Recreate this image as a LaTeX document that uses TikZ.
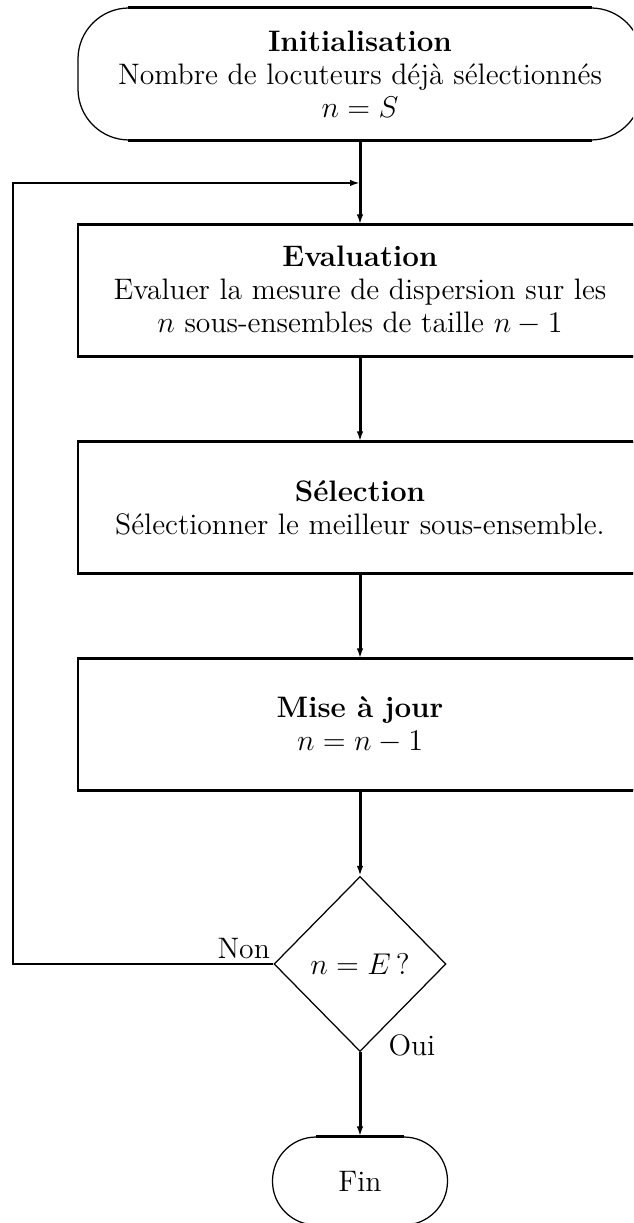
\documentclass[tikz,border=0pt]{standalone}
\usepackage{fontspec}
\usetikzlibrary{shapes.geometric,arrows.meta,calc}
\begin{document}
\begin{tikzpicture}[x=0.4pt,y=-0.4pt,
  font=\fontsize{11.85}{13.2}\selectfont,
  thinline/.style={line width=0.5pt},
  hedge/.style={line width=1.2pt},
  proc/.style={draw, thinline, rectangle, minimum width=225.6pt, minimum height=52.4pt, align=center, inner sep=0pt},
  term/.style={draw, thinline, rectangle, align=center, inner sep=0pt},
  decide/.style={draw, thinline, diamond, minimum width=68.8pt, minimum height=70pt, inner sep=0pt},
  conn/.style={line width=1.2pt, -{Latex[length=4pt,width=2.6pt]}},
  back/.style={line width=1pt, -{Latex[length=4pt,width=2.6pt]}}
]
\useasboundingbox (0,0) rectangle (633,1223);
\clip (0,0) rectangle (633,1223);

\node[term, minimum width=225.6pt, minimum height=52.8pt, rounded corners=20.4pt] (init) at (360,74)
  {\textbf{Initialisation}\\Nombre de locuteurs déjà sélectionnés\\$n=S$};
\node[proc] (eval) at (360,290.5)
  {\textbf{Evaluation}\\Evaluer la mesure de dispersion sur les\\$n$ sous-ensembles de taille $n-1$};
\node[proc] (sel) at (360,507.5)
  {\textbf{Sélection}\\Sélectionner le meilleur sous-ensemble.};
\node[proc] (maj) at (360,724.5)
  {\textbf{Mise à jour}\\$n=n-1$};
\node[decide] (test) at (360,964) {$n=E\,?$};
\node[term, minimum width=70pt, minimum height=35.2pt, rounded corners=17.5pt] (fin) at (360,1181) {Fin};

% thick horizontal edges
\draw[hedge] ($(init.north west)+(51,0)$) -- ($(init.north east)+(-51,0)$);
\draw[hedge] ($(init.south west)+(51,0)$) -- ($(init.south east)+(-51,0)$);
\foreach \b in {eval,sel,maj}{
  \draw[hedge] (\b.north west) -- (\b.north east);
  \draw[hedge] (\b.south west) -- (\b.south east);
}
\draw[hedge] ($(fin.north west)+(44,0)$) -- ($(fin.north east)+(-44,0)$);

% connectors
\draw[conn] (init.south) -- (eval.north);
\draw[conn] (eval.south) -- (sel.north);
\draw[conn] (sel.south) -- (maj.north);
\draw[conn] (maj.south) -- (test.north);
\draw[conn] (test.south) -- (fin.north);

\coordinate (loopc) at (13,964);
\coordinate (join) at (360,183);
\draw[back] (test.west) -- (loopc) |- (join);

\node[anchor=base east, inner sep=0pt] (non) at ($(test.west)+(-3,-6)$) {Non};
\node[anchor=base west, inner sep=0pt] (oui) at ($(test.south)+(28,3)$) {Oui};
\end{tikzpicture}
\end{document}
